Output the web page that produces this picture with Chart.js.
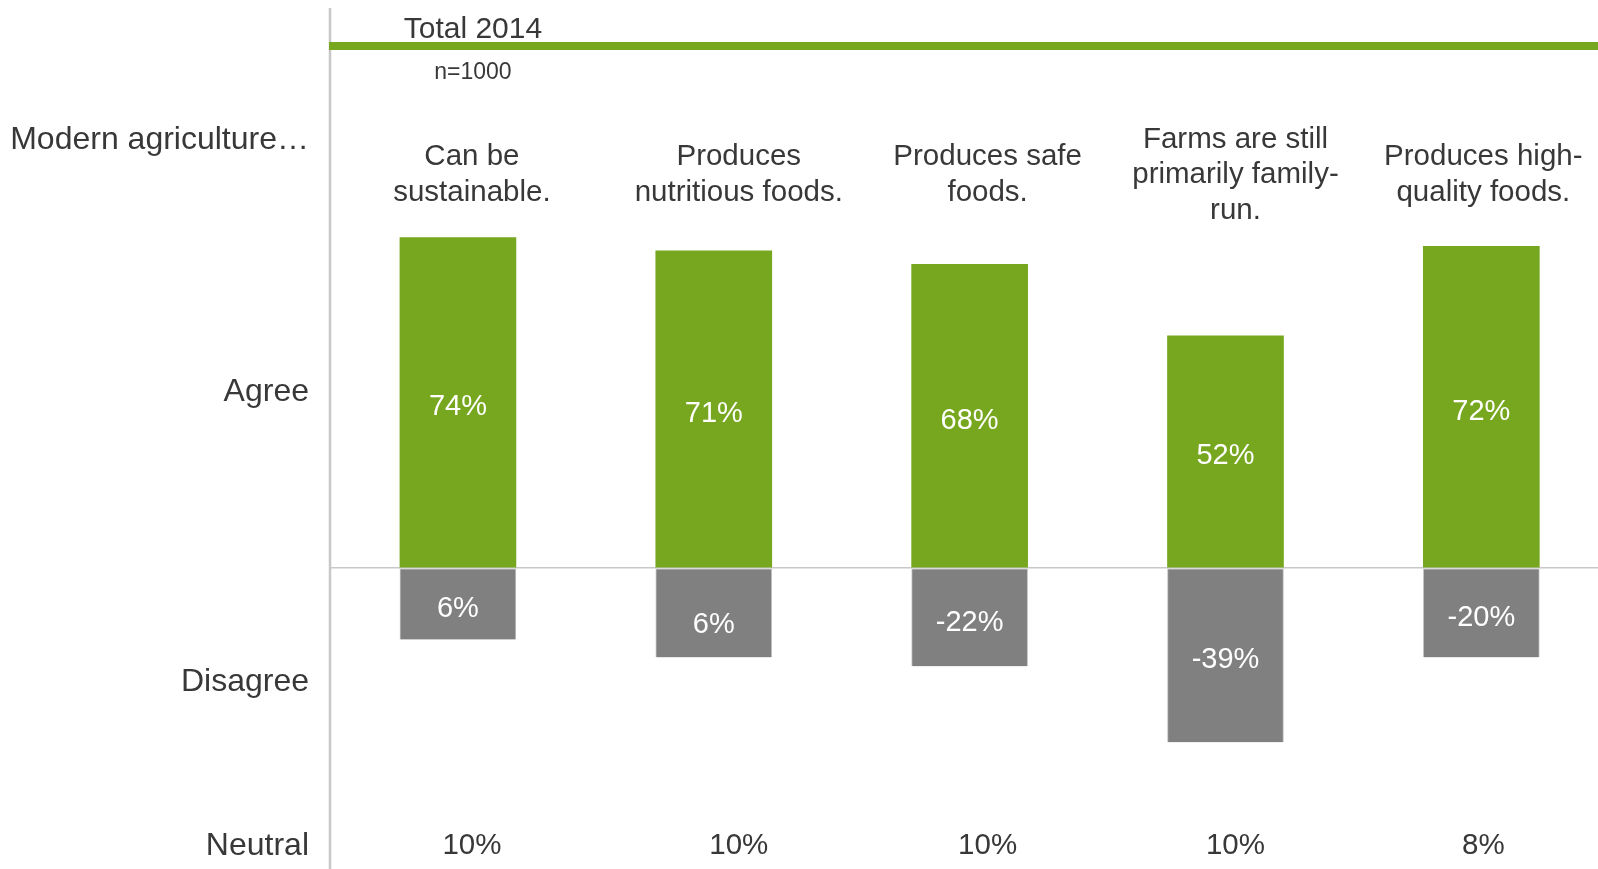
<!DOCTYPE html>
<html>
<head>
<meta charset="utf-8">
<script src="https://cdn.jsdelivr.net/npm/chart.js@4"></script>
<style>
html,body{margin:0;padding:0;background:#fff;overflow:hidden;}
#wrap{width:1598px;height:869px;position:relative;}
</style>
</head>
<body>
<div id="wrap"><canvas id="c" width="1598" height="869"></canvas></div>
<script>
// ---- data ----
const categories = [
  ["Can be", "sustainable."],
  ["Produces", "nutritious foods."],
  ["Produces safe", "foods."],
  ["Farms are still", "primarily family-", "run."],
  ["Produces high-", "quality foods."]
];
const agreeValues = [74, 71, 68, 52, 72];
const disagreeValues = [-16, -20, -22, -39, -20];
const agreeLabels = ["74%", "71%", "68%", "52%", "72%"];
const disagreeLabels = ["6%", "6%", "-22%", "-39%", "-20%"];
const neutralLabels = ["10%", "10%", "10%", "10%", "8%"];
const rowLabels = ["Modern agriculture…", "Agree", "Disagree", "Neutral"];
const headerTitle = "Total 2014";
const headerSub = "n=1000";

// ---- styling ----
const GREEN = "#76a71e";
const GREY = "#808080";
const TEXT = "#383838";
const AXIS = "#c8c8c8";
const FONT = "Arial, 'Liberation Sans', sans-serif";
const labelShift = [14, 25, 18, 10, 2];
const labelDy = [[0, 0, 0, 0, 0], [0, 7, 0, 0, 0]];

const overlay = {
  id: "overlay",
  afterDatasetsDraw(chart) {
    const ctx = chart.ctx;
    const area = chart.chartArea;
    const xs = chart.scales.x;
    const ys = chart.scales.y;
    ctx.save();
    // vertical axis line
    ctx.strokeStyle = AXIS;
    ctx.lineWidth = 2.5;
    ctx.beginPath();
    ctx.moveTo(area.left, 8);
    ctx.lineTo(area.left, chart.height);
    ctx.stroke();
    // green header line
    ctx.fillStyle = GREEN;
    ctx.fillRect(area.left - 1, 42, chart.width - area.left + 1, 8);

    // header text
    ctx.fillStyle = TEXT;
    ctx.textAlign = "center";
    ctx.textBaseline = "alphabetic";
    ctx.font = "30px " + FONT;
    const hx = xs.getPixelForValue(0) + 15;
    ctx.fillText(headerTitle, hx, 38);
    ctx.font = "23px " + FONT;
    ctx.fillText(headerSub, hx, 79);

    // row labels (right aligned)
    ctx.textAlign = "right";
    ctx.textBaseline = "middle";
    ctx.font = "32px " + FONT;
    const rx = area.left - 21;
    const rowY = [140, ys.getPixelForValue(40) + 3, ys.getPixelForValue(-25) + 3, 846];
    rowLabels.forEach((t, i) => ctx.fillText(t, rx, rowY[i]));

    // category labels & neutral values
    ctx.textAlign = "center";
    ctx.font = "29.5px " + FONT;
    const lh = 35.5;
    categories.forEach((lines, i) => {
      const cx = xs.getPixelForValue(i) + labelShift[i];
      const cy = 175;
      const y0 = cy - (lines.length - 1) * lh / 2;
      lines.forEach((ln, j) => ctx.fillText(ln, cx, y0 + j * lh));
      ctx.fillText(neutralLabels[i], cx, 846);
    });

    // bar value labels
    ctx.fillStyle = "#ffffff";
    ctx.font = "29px " + FONT;
    const labelSets = [agreeLabels, disagreeLabels];
    chart.data.datasets.forEach((ds, d) => {
      const meta = chart.getDatasetMeta(d);
      meta.data.forEach((el, i) => {
        const y = (el.y + el.base) / 2;
        ctx.fillText(labelSets[d][i], el.x, y + 5 + labelDy[d][i]);
      });
    });
    ctx.restore();
  }
};

new Chart(document.getElementById("c"), {
  type: "bar",
  data: {
    datasets: [
      {
        label: "Agree",
        data: agreeValues.map((v, i) => ({ x: i, y: v })),
        backgroundColor: GREEN,
        borderWidth: 0,
        grouped: false,
        barThickness: 116
      },
      {
        label: "Disagree",
        data: disagreeValues.map((v, i) => ({ x: i, y: v })),
        backgroundColor: GREY,
        borderColor: "#c4c4c4",
        borderWidth: 1,
        borderSkipped: "top",
        grouped: false,
        barThickness: 116
      }
    ]
  },
  options: {
    responsive: false,
    animation: false,
    devicePixelRatio: 1,
    layout: { padding: { left: 330, right: 0, top: 32, bottom: 33 } },
    plugins: { legend: { display: false }, tooltip: { enabled: false } },
    scales: {
      x: {
        type: "linear",
        offset: false,
        min: -0.5,
        max: 4.456,
        display: false
      },
      y: {
        min: -60,
        max: 120,
        ticks: { display: false, stepSize: 10 },
        border: { display: false },
        grid: {
          drawTicks: false,
          lineWidth: 1.5,
          color: (c) => (c.tick && c.tick.value === 0 ? AXIS : "rgba(0,0,0,0)")
        }
      }
    }
  },
  plugins: [overlay]
});
</script>
</body>
</html>
